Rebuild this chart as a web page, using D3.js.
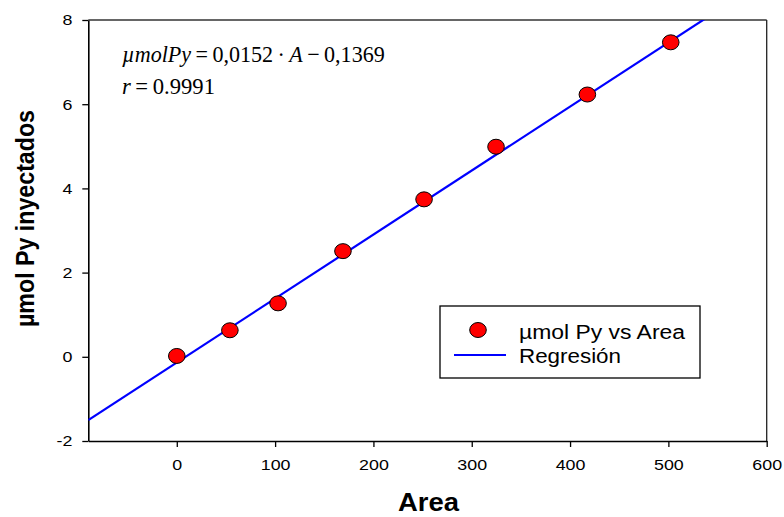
<!DOCTYPE html>
<html><head><meta charset="utf-8">
<script src="https://cdn.jsdelivr.net/npm/d3@7"></script>
<style>body{margin:0;background:#fff}svg{display:block}</style>
</head><body>
<svg id="c" width="784" height="517"></svg>
<script>
const areas = [0, 54, 103, 169, 251.5, 324.7, 417.6, 502.4];
const umolPy = [0.02, 0.63, 1.27, 2.51, 3.74, 4.99, 6.23, 7.47];
const slope = 0.0152, intercept = -0.1369;
const xTicks = [0, 100, 200, 300, 400, 500, 600];
const yTicks = [-2, 0, 2, 4, 6, 8];
const xDomain = [-90, 600], yDomain = [-2, 8];

const ARIAL = "Arial, 'Liberation Sans', sans-serif";
const TIMES = "'Liberation Serif', 'Times New Roman', serif";
const svg = d3.select("#c");
const L = 88.3, R = 766.7, T = 20, B = 441;
const x = d3.scaleLinear().domain(xDomain).range([L, R]);
const y = d3.scaleLinear().domain(yDomain).range([B, T]);

function stretch(sel, f) {
  sel.each(function () {
    const w = this.getComputedTextLength();
    d3.select(this).attr("textLength", w * f).attr("lengthAdjust", "spacingAndGlyphs");
  });
}
function fitTo(sel, w) {
  sel.attr("textLength", w).attr("lengthAdjust", "spacingAndGlyphs");
}

// frame top/right
svg.append("line").attr("x1", L).attr("x2", R).attr("y1", T).attr("y2", T).attr("stroke", "#666").attr("stroke-width", 2);
svg.append("line").attr("x1", R).attr("x2", R).attr("y1", T).attr("y2", B).attr("stroke", "#222").attr("stroke-width", 1.3);

const xa = svg.append("g").attr("transform", `translate(0,${B})`)
  .call(d3.axisBottom(x).tickValues(xTicks).tickFormat(d => String(d)).tickSize(6).tickPadding(12).tickSizeOuter(0));
const ya = svg.append("g").attr("transform", `translate(${L},0)`)
  .call(d3.axisLeft(y).tickValues(yTicks).tickFormat(d => String(d)).tickSize(6).tickPadding(10).tickSizeOuter(0));
[xa, ya].forEach(g => {
  g.selectAll("text").attr("font-family", ARIAL).attr("font-size", 15.5).attr("fill", "#000");
  stretch(g.selectAll("text"), 1.15);
  g.selectAll("line").attr("stroke", "#000").attr("stroke-width", 1.3);
  g.select(".domain").attr("stroke", "#000").attr("stroke-width", 1.6);
});

// clip
svg.append("clipPath").attr("id", "pc").append("rect").attr("x", L).attr("y", T).attr("width", R - L).attr("height", B - T);

// regression line
const lineData = [xDomain[0], xDomain[1]].map(a => [a, slope * a + intercept]);
svg.append("path").attr("clip-path", "url(#pc)")
  .attr("d", d3.line().x(d => x(d[0])).y(d => y(d[1]))(lineData))
  .attr("stroke", "#0000ff").attr("stroke-width", 2.2).attr("fill", "none");

// points
svg.append("g").selectAll("ellipse").data(areas.map((a, i) => [a, umolPy[i]])).join("ellipse")
  .attr("cx", d => x(d[0])).attr("cy", d => y(d[1])).attr("rx", 8.3).attr("ry", 7.5)
  .attr("fill", "#ff0000").attr("stroke", "#000").attr("stroke-width", 1);

// axis titles
svg.append("text").attr("x", 428.5).attr("y", 511).attr("text-anchor", "middle")
  .attr("font-family", ARIAL).attr("font-weight", "bold").attr("font-size", 26).text("Area")
  .call(fitTo, 61);
svg.append("text").attr("transform", "translate(34,218.5) rotate(-90)").attr("text-anchor", "middle")
  .attr("font-family", ARIAL).attr("font-weight", "bold").attr("font-size", 25).text("µmol Py inyectados")
  .call(fitTo, 217);

// equation
const eq = svg.append("text").attr("x", 122).attr("y", 62)
  .attr("font-family", TIMES).attr("font-size", 23);
eq.append("tspan").attr("font-style", "italic").text("µmolPy");
eq.append("tspan").text("\u2009=\u20090,0152\u2009·\u2009");
eq.append("tspan").attr("font-style", "italic").text("A");
eq.append("tspan").text("\u2009−\u20090,1369");
const r2 = svg.append("text").attr("x", 122).attr("y", 94)
  .attr("font-family", TIMES).attr("font-size", 23);
r2.append("tspan").attr("font-style", "italic").text("r");
r2.append("tspan").text("\u2009=\u20090.9991");
function scaleToWidth(t, x0, y0, w) {
  const bw = t.node().getBBox().width;
  const s = w / bw;
  t.attr("x", 0).attr("y", 0).attr("transform", `translate(${x0},${y0}) scale(${s},1)`);
}
scaleToWidth(eq, 122, 62, 263);
scaleToWidth(r2, 122, 94, 93);

// legend
const lg = svg.append("g");
lg.append("rect").attr("x", 440).attr("y", 306).attr("width", 260).attr("height", 72)
  .attr("fill", "#fff").attr("stroke", "#000").attr("stroke-width", 1.3);
lg.append("ellipse").attr("cx", 478).attr("cy", 330).attr("rx", 8.3).attr("ry", 7.5)
  .attr("fill", "#ff0000").attr("stroke", "#000").attr("stroke-width", 1);
lg.append("line").attr("x1", 454).attr("x2", 506).attr("y1", 355).attr("y2", 355)
  .attr("stroke", "#0000ff").attr("stroke-width", 2);
lg.append("text").attr("x", 519).attr("y", 338.5).attr("font-family", ARIAL).attr("font-size", 20).text("µmol Py vs Area").call(fitTo, 166);
lg.append("text").attr("x", 519).attr("y", 362.5).attr("font-family", ARIAL).attr("font-size", 20).text("Regresión").call(fitTo, 102);
</script>
</body></html>
